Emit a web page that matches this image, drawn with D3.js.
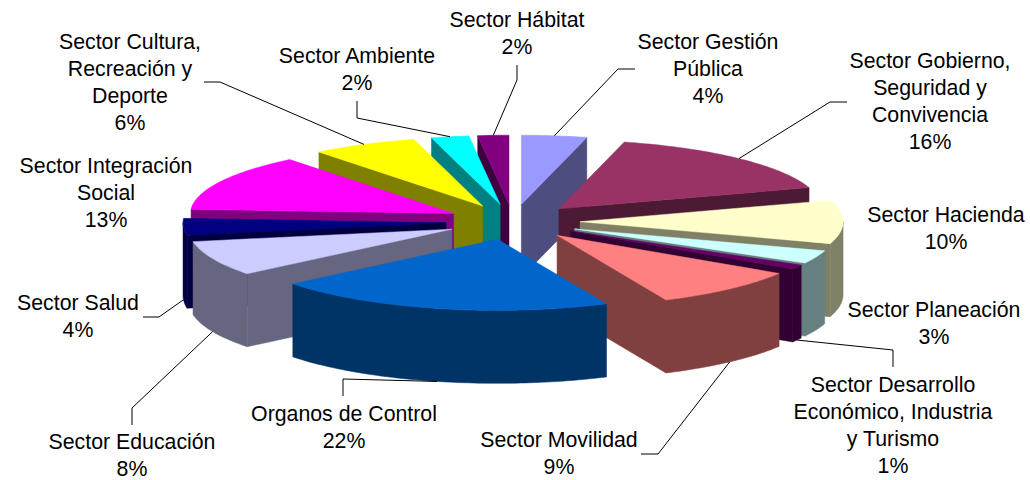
<!DOCTYPE html>
<html>
<head>
<meta charset="utf-8">
<script src="https://cdn.jsdelivr.net/npm/d3@7"></script>
<style>
    html, body { margin: 0; padding: 0; background: #fff; }
    text { font-family: "Liberation Sans", Arial, sans-serif; font-size: 21.3px; fill: #000; }
</style>
</head>
<body>
<div id="chart"></div>
<script>
(function () {
    'use strict';
    var categories = [
            ["Sector Gestión", "Pública"],
            ["Sector Gobierno,", "Seguridad y", "Convivencia"],
            ["Sector Hacienda"],
            ["Sector Planeación"],
            ["Sector Desarrollo", "Económico, Industria", "y Turismo"],
            ["Sector Movilidad"],
            ["Organos de Control"],
            ["Sector Educación"],
            ["Sector Salud"],
            ["Sector Integración", "Social"],
            ["Sector Cultura,", "Recreación y", "Deporte"],
            ["Sector Ambiente"],
            ["Sector Hábitat"]
        ],
        // as printed on the chart
        printedShares = ["4%", "16%", "10%", "3%", "1%", "9%", "22%", "8%", "4%", "13%", "6%", "2%", "2%"],
        shares = [4, 16, 10, 3, 1, 9.2, 21, 8, 3.8, 13.3, 6.49, 2.31, 1.9],
        colors = ["#9999FF", "#993366", "#FFFFCC", "#CCFFFF", "#660066", "#FF8080", "#0066CC",
            "#CCCCFF", "#000080", "#FF00FF", "#FFFF00", "#00FFFF", "#800080"];

    // where each label sits (centre x, first baseline)
    var labelAnchors = [[708, 49], [930, 68], [946, 222], [934, 317], [893, 392], [559, 447], [344, 421],
            [132, 449], [78, 310], [106, 173], [130, 49], [357, 63], [517, 27]],
        // leader line bends, from the slice out to the label
        leaderBends = [
            [[618, 69], [635, 69]],
            [[830, 102], [847, 102]],
            null,
            null,
            [[893, 350], [893, 367]],
            [[658, 454], [641, 454]],
            [[343, 379], [343, 396]],
            [[132, 408], [132, 425]],
            [[159, 317], [143, 317]],
            null,
            [[220, 82], [204, 82]],
            [[357, 118], [357, 101]],
            [[517, 80], [517, 65]]
        ];

    var width = 1030,
        height = 480,
        cx = 513,
        cy = 221.7,
        radiusX = 263,
        radiusBack = 69,
        radiusFront = 71,
        explode = 0.255,
        depth = 73,
        lineHeight = 27;

    var x = d3.scaleLinear().domain([-1, 1]).range([cx - radiusX, cx + radiusX]),
        y = d3.scaleLinear().domain([-1, 0, 1]).range([cy - radiusBack, cy, cy + radiusFront]),
        outline = d3.line(),
        leader = d3.line();

    var slices = d3.pie().sort(null)(shares).map(function (d) {
        d.mid = (d.startAngle + d.endAngle) / 2;
        return d;
    });

    // angle is clockwise from 12 o'clock, r 0 is the slice tip, r 1 its rim
    function project(d, angle, r, drop) {
        var u = Math.sin(angle) * r + Math.sin(d.mid) * explode,
            v = -Math.cos(angle) * r - Math.cos(d.mid) * explode;
        return [x(u), y(v) + drop];
    }

    function rim(d, from, to, drop) {
        return d3.range(from, to, 0.02).concat([to]).map(function (a) {
            return project(d, a, 1, drop);
        });
    }

    function radialWall(d, angle) {
        return [project(d, angle, 0, 0), project(d, angle, 1, 0),
            project(d, angle, 1, depth), project(d, angle, 0, depth)];
    }

    // only the faces turned to the viewer, the rest would paint over them
    function walls(d) {
        var list = [],
            from = Math.max(d.startAngle, Math.PI / 2),
            to = Math.min(d.endAngle, 3 * Math.PI / 2);
        if (Math.sin(d.startAngle) < 0) {
            list.push(radialWall(d, d.startAngle));
        }
        if (Math.sin(d.endAngle) > 0) {
            list.push(radialWall(d, d.endAngle));
        }
        if (to > from) {
            list.push(rim(d, from, to, 0).concat(rim(d, from, to, depth).reverse()));
        }
        return list;
    }

    function topFace(d) {
        return [project(d, 0, 0, 0)].concat(rim(d, d.startAngle, d.endAngle, 0));
    }

    function wallColor(d) {
        var c = d3.rgb(colors[d.index]);
        return d3.rgb(c.r / 2, c.g / 2, c.b / 2).formatHex();
    }

    var svg = d3.select("#chart").append("svg")
        .attr("width", width)
        .attr("height", height)
        .style("display", "block");

    // back slices first
    var sliceGroup = svg.selectAll("g.slice")
        .data(slices.slice().sort(function (a, b) {
            return Math.cos(b.mid) - Math.cos(a.mid);
        }))
        .enter()
        .append("g")
        .attr("class", "slice");

    sliceGroup.selectAll("path.wall")
        .data(function (d) {
            return walls(d).map(function (points) {
                return {points: points, color: wallColor(d)};
            });
        })
        .enter()
        .append("path")
        .attr("class", "wall")
        .attr("d", function (w) { return outline(w.points) + "Z"; })
        .attr("fill", function (w) { return w.color; })
        .attr("stroke", function (w) { return w.color; })
        .attr("stroke-width", 0.5);

    sliceGroup.append("path")
        .attr("class", "top")
        .attr("d", function (d) { return outline(topFace(d)) + "Z"; })
        .attr("fill", function (d) { return colors[d.index]; })
        .attr("stroke", function (d) { return colors[d.index]; })
        .attr("stroke-width", 0.5);

    svg.selectAll("path.leader")
        .data(slices.filter(function (d) { return leaderBends[d.index]; }))
        .enter()
        .append("path")
        .attr("class", "leader")
        .attr("fill", "none")
        .attr("stroke", "#000")
        .attr("stroke-width", 1)
        .attr("d", function (d) {
            var drop = Math.cos(d.mid) < 0.1 ? depth : 0;
            return leader([project(d, d.mid, 1, drop)].concat(leaderBends[d.index]));
        });

    var label = svg.selectAll("text.label")
        .data(slices)
        .enter()
        .append("text")
        .attr("class", "label")
        .attr("text-anchor", "middle");

    label.selectAll("tspan")
        .data(function (d) {
            return categories[d.index].concat([printedShares[d.index]]).map(function (line, i) {
                return {line: line, i: i, at: labelAnchors[d.index]};
            });
        })
        .enter()
        .append("tspan")
        .attr("x", function (l) { return l.at[0]; })
        .attr("y", function (l) { return l.at[1] + l.i * lineHeight; })
        .text(function (l) { return l.line; });
}());
</script>
</body>
</html>
